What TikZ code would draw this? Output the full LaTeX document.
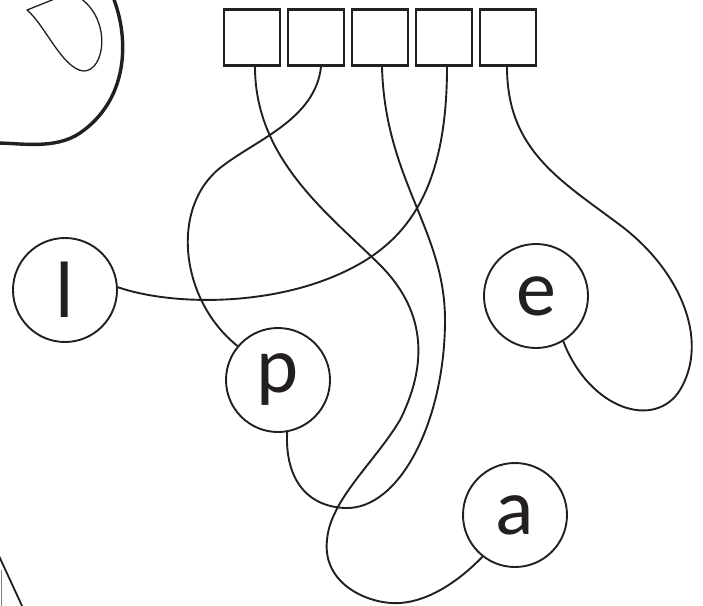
\documentclass[tikz,border=0pt]{standalone}
\usepackage{fontspec}
\setmainfont{Carlito}
\definecolor{inkblack}{HTML}{231F20}
\begin{document}
\begin{tikzpicture}[x=1pt,y=-1pt,
  pen/.style={draw=inkblack, line width=1.9pt},
  cell/.style={pen, line width=2.8pt, minimum size=56pt, inner sep=0pt},
  letter/.style={pen, circle, minimum size=104pt, inner sep=0pt, text=inkblack,
    font=\fontsize{80}{80}\selectfont},
  wire/.style={pen, line cap=round}]
\clip (0,0) rectangle (703,605);
\foreach \i in {1,...,5}
  \node[cell] (b\i) at ({252+64*(\i-1)},37.5) {};
\node[letter] (l) at (65,290) {l};
\node[letter] (p) at (278,380) {p};
\node[letter] (e) at (536,296) {e};
\node[letter] (a) at (515,515) {a};
\draw[wire] ([xshift=3pt]b1.south) .. controls (255,160) and (330,215) .. (380,265)
  .. controls (430,315) and (425,370) .. (400,420)
  .. controls (375,462) and (330,500) .. (327,540)
  .. controls (322,585) and (370,605) .. (400,603)
  .. controls (430,601) and (460,580) .. (a.-128);
\draw[wire] ([xshift=5pt]b2.south) .. controls (315,120) and (255,140) .. (220,168)
  .. controls (170,208) and (180,300) .. (p.140);
\draw[wire] ([xshift=2pt]b3.south) .. controls (385,180) and (445,230) .. (445,320)
  .. controls (445,420) and (400,510) .. (345,508)
  .. controls (300,506) and (285,470) .. (p.-80);
\draw[wire] ([xshift=3pt]b4.south) .. controls (447,200) and (400,250) .. (330,278)
  .. controls (260,306) and (170,305) .. (l.3);
\draw[wire] ([xshift=-1pt]b5.south) .. controls (507,150) and (560,180) .. (620,225)
  .. controls (680,270) and (710,340) .. (680,390)
  .. controls (655,430) and (590,410) .. (e.-59);
% apple at the corner
\draw[pen, line width=3.4pt] (113,-3) .. controls (130,40) and (128,100) .. (80,133)
  .. controls (55,150) and (20,143) .. (-3,143);
\draw[pen, line width=1.3pt, line join=round] (57,-2) -- (27,10)
  .. controls (45,25) and (62,68) .. (83,71)
  .. controls (105,72) and (112,20) .. (80,-2);
\draw[pen, line width=1.8pt] (-1,556) -- (23,608);
\draw[pen, line width=1pt, draw=gray] (1,570) -- (1,608);
\end{tikzpicture}
\end{document}
